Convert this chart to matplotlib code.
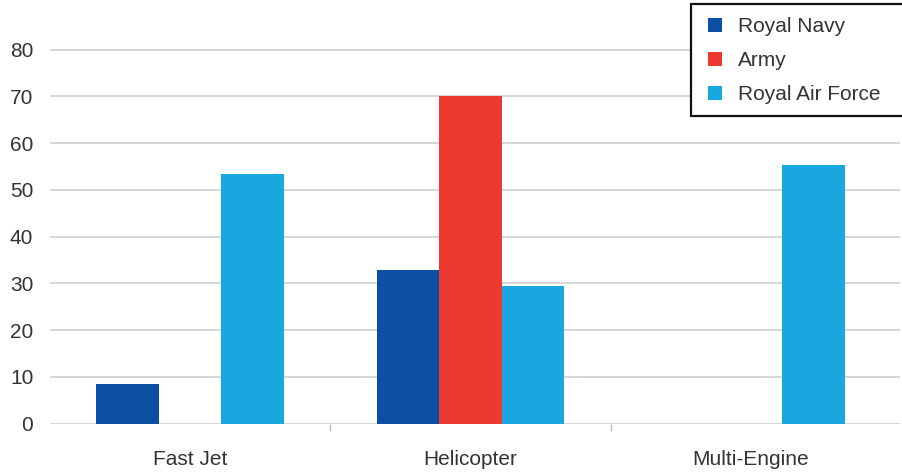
import matplotlib
matplotlib.use("Agg")
import matplotlib.pyplot as plt
from matplotlib.lines import Line2D
from matplotlib.patches import Rectangle
import numpy as np

categories = ["Fast Jet", "Helicopter", "Multi-Engine"]
series_names = ["Royal Navy", "Army", "Royal Air Force"]
royal_navy = [8.4, 32.8, 0]
army = [0, 70, 0]
raf = [53.4, 29.4, 55.3]
y_ticks = [0, 10, 20, 30, 40, 50, 60, 70, 80]

colors = ["#0C4FA3", "#EC3A31", "#19A7E0"]
plt.rcParams['font.family'] = ['Liberation Sans', 'DejaVu Sans']
text_color = "#333333"
fs = 15

W, H = 903, 473
fig = plt.figure(figsize=(W / 100, H / 100), dpi=100)
ax = fig.add_axes([50 / W, 49.5 / H, 850 / W, 423.5 / H])

x = np.arange(len(categories))
bw = 0.223
for i, (vals, c) in enumerate(zip([royal_navy, army, raf], colors)):
    ax.bar(x + (i - 1) * bw, vals, width=bw, color=c, linewidth=0, zorder=3)

ax.set_xlim(-0.499, 2.531)
ax.set_ylim(0, 90.59)
ax.set_yticks(y_ticks)
ax.set_yticklabels([str(v) for v in y_ticks])
ax.grid(axis='y', color='#CCCCCC', linewidth=1.1, zorder=0)
ax.set_axisbelow(True)
for s in ax.spines.values():
    s.set_visible(False)

ax.set_xticks(x)
ax.set_xticklabels(categories)
ax.set_xticks([0.5, 1.5], minor=True)
ax.tick_params(axis='x', which='major', length=0, pad=19, labelsize=fs, labelcolor=text_color)
ax.tick_params(axis='x', which='minor', length=5, width=1, color='#BBBBBB', direction='out')
ax.tick_params(axis='y', length=0, pad=12, labelsize=fs, labelcolor=text_color)

# legend frame (extends past the right edge as in the reference)
fig.patches.append(Rectangle((691 / W, 1 - 116 / H), 220 / W, 112 / H,
                             transform=fig.transFigure, facecolor='white',
                             edgecolor='#111111', linewidth=1.6, zorder=5))

handles = [Line2D([], [], linestyle='none', marker='s', markersize=9.4,
                  markerfacecolor=c, markeredgewidth=0) for c in colors]
leg = fig.legend(handles, series_names, loc='upper left',
                 bbox_to_anchor=(691 / W, 1 - 7 / H), borderaxespad=0,
                 fontsize=fs, frameon=False, borderpad=0.5, handlelength=1.32,
                 handletextpad=0.42, labelspacing=0.72, labelcolor=text_color)
leg.set_zorder(6)

fig.savefig("out.png", dpi=100)
